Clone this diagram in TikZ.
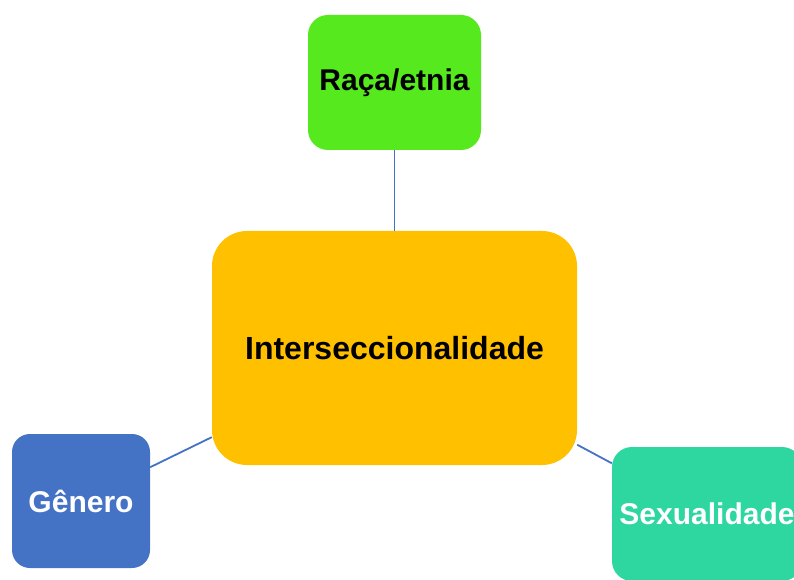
\documentclass[tikz,border=0pt]{standalone}
\usepackage{fontspec}
\setmainfont{Liberation Sans}
\usepackage{tikz}
\usetikzlibrary{positioning}
\definecolor{racagreen}{HTML}{55E91E}
\definecolor{interorange}{HTML}{FFC000}
\definecolor{generoblue}{HTML}{4472C4}
\definecolor{sexteal}{HTML}{2ED6A0}
\definecolor{linkblue}{HTML}{4472C4}
\tikzset{
    box/.style={rectangle, rounded corners=20pt, inner sep=0pt, draw=none,
        font=\fontsize{30}{36}\selectfont\bfseries},
    link/.style={draw=linkblue, line width=1.8pt}
}
\begin{document}
\begin{tikzpicture}[x=1pt,y=1pt]
        \useasboundingbox (0,0) rectangle (794,579);
        \clip (0,0) rectangle (794,579);
        \node[box, fill=interorange, minimum width=365pt, minimum height=234pt, rounded corners=35pt,
              font=\fontsize{32}{38}\selectfont\bfseries] (inter) at (394.5,231) {Interseccionalidade};
        \node[box, fill=racagreen, minimum width=173pt, minimum height=135pt] (raca) at (394.5,496.5) {Raça/etnia};
        \node[box, fill=generoblue, text=white, minimum width=138pt, minimum height=134pt, rounded corners=18pt] (genero) at (81,78) {Gênero};
        \node[box, fill=sexteal, text=white, minimum width=190pt, minimum height=134pt] (sex) at (707,65) {Sexualidade};
        \draw[link] (raca) -- (inter);
        \draw[link] (genero) -- (inter);
        \draw[link] (sex) -- (inter);
    \end{tikzpicture}
\end{document}
